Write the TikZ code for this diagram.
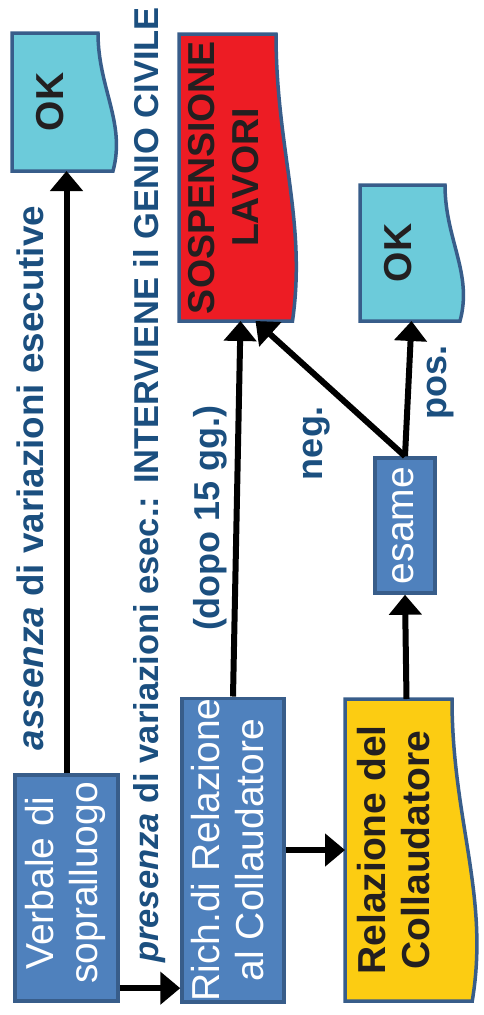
\documentclass[tikz,border=0pt]{standalone}
\usepackage{fontspec}
\setmainfont{Liberation Sans}
\usepackage{graphicx}
\usetikzlibrary{arrows.meta,calc}

\definecolor{boxblue}{HTML}{4F81BD}
\definecolor{boxline}{HTML}{385D8A}
\definecolor{okcyan}{HTML}{6CCBDA}
\definecolor{stopred}{HTML}{ED1C24}
\definecolor{relyellow}{HTML}{FCCC12}
\definecolor{lblblue}{HTML}{1B4F7F}
\definecolor{darktext}{HTML}{231F20}

\tikzset{
	flowbox/.style={rectangle, draw=boxline, line width=3.5pt, fill=boxblue, text=white, inner sep=0pt, font=\fontsize{39}{44}\selectfont},
	docbox/.style={rectangle, inner sep=0pt, outer sep=0pt, text=darktext, font=\bfseries\fontsize{39}{44}\selectfont},
	lbl/.style={text=lblblue, inner sep=0pt, font=\bfseries\fontsize{36}{40}\selectfont},
	arr/.style={line width=6pt, -{Triangle[width=32pt,length=20pt]}}
}

% document shape: node name, fill, bulge of the wavy side
\newcommand{\docpath}[3]{%
	\draw[draw=boxline, line width=3.5pt, fill=#2] (#1.north west) -- (#1.north east)
	.. controls ($(#1.north east)!0.4!(#1.south east)$) and ($(#1.north east)!0.65!(#1.south east)+(1.4*#3,0)$)
	.. ($(#1.south east)+(0.75*#3,0)$) -- (#1.south west) -- cycle;}

\newcommand{\rot}[1]{\rotatebox{90}{\begin{tabular}{@{}c@{}}#1\end{tabular}}}

\begin{document}
\begin{tikzpicture}[x=1pt, y=1pt]
	\useasboundingbox (0,0) rectangle (483,-1015);
	
	% boxes
	\node[flowbox, minimum width=103pt, minimum height=226pt] (verbale) at (66.5,-888) {\raisebox{10pt}{\rot{Verbale di\\sopralluogo}}};
	\node[flowbox, minimum width=102pt, minimum height=302pt] (rich) at (233,-850) {\rot{Rich.di Relazione\\al Collaudatore}};
	\node[flowbox, minimum width=60pt, minimum height=135pt] (esame) at (405,-525.5) {\rot{esame}};
	
	% document shapes
	\node[docbox, minimum width=86pt, minimum height=138pt] (ok1) at (55,-102) {};
	\node[docbox, minimum width=97pt, minimum height=287pt] (sosp) at (227.5,-177.5) {};
	\node[docbox, minimum width=85pt, minimum height=136pt] (ok2) at (402.5,-253) {};
	\node[docbox, minimum width=107pt, minimum height=302pt] (relaz) at (398.5,-850) {};
	\docpath{ok1}{okcyan}{20}
	\docpath{sosp}{stopred}{22}
	\docpath{ok2}{okcyan}{20}
	\docpath{relaz}{relyellow}{27}
	\node[docbox] at (ok1.center) {\rot{OK}};
	\node[docbox, font=\bfseries\fontsize{37.5}{44}\selectfont] at (sosp.center) {\rot{SOSPENSIONE\\LAVORI}};
	\node[docbox] at (ok2.center) {\rot{OK}};
	\node[docbox] at (relaz.center) {\rot{Relazione del\\Collaudatore}};
	
	% connectors
	\draw[arr] (verbale.north) -- (verbale.north |- ok1.south);
	\draw[arr] (verbale.-62) -- (verbale.-62 -| rich.west);
	\draw[arr] (rich.east) -- (relaz.west);
	\draw[arr] (rich.north) -- ([xshift=13pt]sosp.south);
	\draw[arr] ([xshift=8pt]relaz.north) -- (esame.south);
	\draw[arr] (esame.north) -- ([xshift=9pt]ok2.south);
	\draw[arr] (esame.north) -- ([xshift=28pt]sosp.south);
	
	% labels
	\node[lbl, rotate=90, font=\bfseries\fontsize{36.8}{40}\selectfont] (assenza) at (30,-478) {\textit{assenza} di variazioni esecutive};
	\node[lbl, rotate=90, font=\bfseries\fontsize{34.5}{40}\selectfont] (presenza) at (150,-485) {\textit{presenza} di variazioni esec.: INTERVIENE il GENIO CIVILE};
	\node[lbl, rotate=90] (dopo) at (210,-518) {(dopo 15 gg.)};
	\node[lbl, rotate=90] (neg) at (317,-443) {neg.};
	\node[lbl, rotate=90] (pos) at (441,-382) {pos.};
\end{tikzpicture}
\end{document}
